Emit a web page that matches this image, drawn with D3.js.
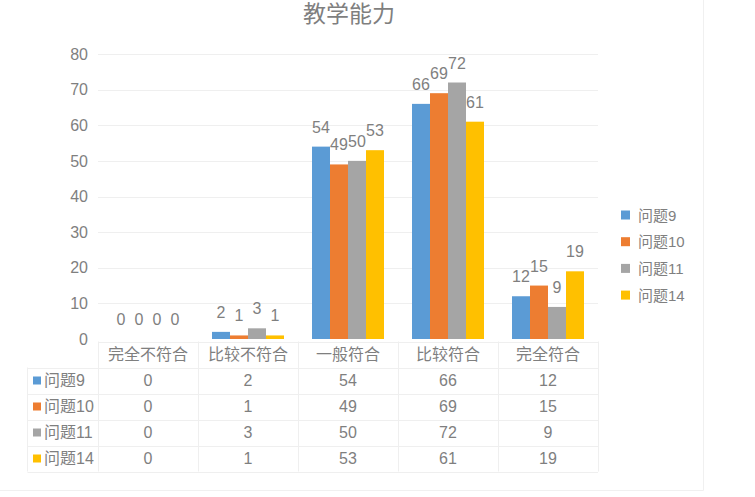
<!DOCTYPE html>
<html>
<head>
<meta charset="utf-8">
<script src="https://cdn.jsdelivr.net/npm/d3@7"></script>
<style>
  body { margin: 0; background: #fff; }
  svg { display: block; font-family: "Liberation Sans", "Noto Sans CJK SC", sans-serif; }
</style>
</head>
<body>
<svg id="chart" width="755" height="497"></svg>
<script>
var categories = ["完全不符合", "比较不符合", "一般符合", "比较符合", "完全符合"];
var seriesNames = ["问题9", "问题10", "问题11", "问题14"];
var q9 = [0, 2, 54, 66, 12];
var q10 = [0, 1, 49, 69, 15];
var q11 = [0, 3, 50, 72, 9];
var q14 = [0, 1, 53, 61, 19];
var yTicks = [0, 10, 20, 30, 40, 50, 60, 70, 80];
var colors = ["#5B9BD5", "#ED7D31", "#A5A5A5", "#FFC000"];

var seriesValues = [q9, q10, q11, q14];
var series = seriesNames.map(function(name, i) {
    return { name: name, color: colors[i], values: seriesValues[i] };
});

var plot = { left: 98, right: 598, top: 54, bottom: 339 };
var textColor = "#7f7f7f";
var lineColor = "#efefef";
var fontSize = "16px";

var svg = d3.select("#chart");

// outer frame edges
svg.append("line")
    .attr("x1", 703.5).attr("x2", 703.5)
    .attr("y1", 0).attr("y2", 490.5)
    .style("stroke", "#f0f0f0");
svg.append("line")
    .attr("x1", 0).attr("x2", 703.5)
    .attr("y1", 490.5).attr("y2", 490.5)
    .style("stroke", "#f0f0f0");

// title
svg.append("text")
    .attr("x", 349)
    .attr("y", 22)
    .attr("text-anchor", "middle")
    .style("font-size", "23px")
    .style("fill", textColor)
    .text("教学能力");

var x = d3.scaleBand()
    .domain(categories)
    .range([plot.left, plot.right])
    .paddingInner(0.28)
    .paddingOuter(0.14);

var xCol = d3.scaleBand()
    .domain(categories)
    .range([plot.left, plot.right]);

var xSub = d3.scaleBand()
    .domain(seriesNames)
    .range([0, x.bandwidth()]);

var y = d3.scaleLinear()
    .domain([0, 80])
    .range([plot.bottom, plot.top]);

// gridlines
svg.append("g")
    .selectAll("line")
    .data(yTicks.filter(function(d) { return d > 0; }))
    .enter().append("line")
    .attr("x1", plot.left)
    .attr("x2", plot.right)
    .attr("y1", function(d) { return Math.round(y(d)) + 0.5; })
    .attr("y2", function(d) { return Math.round(y(d)) + 0.5; })
    .style("stroke", lineColor);

// y axis labels
var yAxis = svg.append("g")
    .attr("transform", "translate(" + (plot.left - 10) + ",0)")
    .call(d3.axisLeft(y).tickValues(yTicks).tickSize(0).tickPadding(0));
yAxis.select(".domain").remove();
yAxis.selectAll("text")
    .style("font-size", fontSize)
    .style("fill", textColor)
    .style("font-family", "Liberation Sans, sans-serif");

// bars
var groups = svg.append("g")
    .selectAll("g")
    .data(series)
    .enter().append("g")
    .style("fill", function(d) { return d.color; });

groups.selectAll("rect")
    .data(function(s) {
        return s.values.map(function(v, i) { return { name: s.name, cat: categories[i], value: v }; });
    })
    .enter().append("rect")
    .attr("x", function(d) { return x(d.cat) + xSub(d.name); })
    .attr("y", function(d) { return y(d.value); })
    .attr("width", xSub.bandwidth())
    .attr("height", function(d) { return y(0) - y(d.value); });

// value labels
groups.selectAll("text")
    .data(function(s) {
        return s.values.map(function(v, i) { return { name: s.name, cat: categories[i], value: v }; });
    })
    .enter().append("text")
    .attr("x", function(d) { return x(d.cat) + xSub(d.name) + xSub.bandwidth() / 2; })
    .attr("y", function(d) { return y(d.value) - 14; })
    .attr("text-anchor", "middle")
    .style("font-size", fontSize)
    .style("fill", textColor)
    .text(function(d) { return d.value; });

// data table
var tableTop = 341.5, rowH = 26, tableLeft = 27.5;
var table = svg.append("g");

// horizontal lines
var rowLines = d3.range(seriesNames.length + 2).map(function(i) { return tableTop + i * rowH; });
table.selectAll(".hline")
    .data(rowLines)
    .enter().append("line")
    .attr("class", "hline")
    .attr("x1", function(d, i) { return i === 0 ? plot.left : tableLeft; })
    .attr("x2", plot.right)
    .attr("y1", function(d) { return Math.round(d) + 0.5; })
    .attr("y2", function(d) { return Math.round(d) + 0.5; })
    .style("stroke", lineColor);

// vertical lines
var colEdges = categories.map(function(c) { return xCol(c); }).concat([plot.right]);
table.selectAll(".vline")
    .data(colEdges)
    .enter().append("line")
    .attr("class", "vline")
    .attr("x1", function(d) { return Math.round(d) + 0.5; })
    .attr("x2", function(d) { return Math.round(d) + 0.5; })
    .attr("y1", tableTop)
    .attr("y2", tableTop + rowH * (seriesNames.length + 1))
    .style("stroke", lineColor);
table.append("line")
    .attr("x1", tableLeft).attr("x2", tableLeft)
    .attr("y1", tableTop + rowH)
    .attr("y2", tableTop + rowH * (seriesNames.length + 1))
    .style("stroke", lineColor);

// header
table.selectAll(".head")
    .data(categories)
    .enter().append("text")
    .attr("class", "head")
    .attr("x", function(d) { return xCol(d) + xCol.bandwidth() / 2; })
    .attr("y", tableTop + rowH / 2 + 5.5)
    .attr("text-anchor", "middle")
    .style("font-size", fontSize)
    .style("fill", textColor)
    .text(function(d) { return d; });

// rows
var rows = table.selectAll(".row")
    .data(series)
    .enter().append("g")
    .attr("class", "row")
    .attr("transform", function(d, i) { return "translate(0," + (tableTop + rowH * (i + 1)) + ")"; });

rows.append("rect")
    .attr("x", 33)
    .attr("y", rowH / 2 - 4)
    .attr("width", 8)
    .attr("height", 8)
    .style("fill", function(d) { return d.color; });

rows.append("text")
    .attr("x", 44)
    .attr("y", rowH / 2 + 5.5)
    .style("font-size", fontSize)
    .style("fill", textColor)
    .text(function(d) { return d.name; });

rows.selectAll(".cell")
    .data(function(d) { return d.values; })
    .enter().append("text")
    .attr("class", "cell")
    .attr("x", function(d, i) { return xCol(categories[i]) + xCol.bandwidth() / 2; })
    .attr("y", rowH / 2 + 5.5)
    .attr("text-anchor", "middle")
    .style("font-size", fontSize)
    .style("fill", textColor)
    .text(function(d) { return d; });

// legend
var legend = svg.append("g")
    .attr("transform", "translate(621,215)");

var legendItems = legend.selectAll("g")
    .data(series)
    .enter().append("g")
    .attr("transform", function(d, i) { return "translate(0," + (i * 26.7) + ")"; });

legendItems.append("rect")
    .attr("x", 0)
    .attr("y", -4.5)
    .attr("width", 9)
    .attr("height", 9)
    .style("fill", function(d) { return d.color; });

legendItems.append("text")
    .attr("x", 17)
    .attr("y", 5.5)
    .style("font-size", "15px")
    .style("fill", textColor)
    .text(function(d) { return d.name; });
</script>
</body>
</html>
